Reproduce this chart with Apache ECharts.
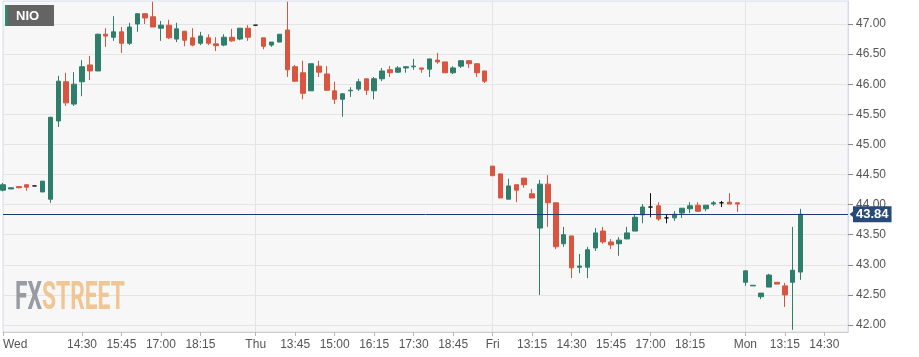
<!DOCTYPE html>
<html>
<head>
<meta charset="utf-8">
<script src="https://cdn.jsdelivr.net/npm/echarts@6/dist/echarts.min.js"></script>
<style>
html,body{margin:0;padding:0;background:#fff;}
#chart{width:919px;height:357px;}
</style>
</head>
<body>
<div id="chart"></div>
<script>
// 15-minute sessions (category labels)
const categories = [
  'Wed','12:15','12:30','12:45','13:00','13:15','13:30','13:45','14:00','14:15','14:30','14:45','15:00','15:15','15:30','15:45','16:00','16:15','16:30','16:45','17:00','17:15','17:30','17:45','18:00','18:15','18:30','18:45','19:00','19:15','19:30','19:45',
  'Thu','12:45','13:00','13:15','13:30','13:45','14:00','14:15','14:30','14:45','15:00','15:15','15:30','15:45','16:00','16:15','16:30','16:45','17:00','17:15','17:30','17:45','18:00','18:15','18:30','18:45','19:00','19:15','19:30','19:45',
  'Fri','12:15','12:30','12:45','13:00','13:15','13:30','13:45','14:00','14:15','14:30','14:45','15:00','15:15','15:30','15:45','16:00','16:15','16:30','16:45','17:00','17:15','17:30','17:45','18:00','18:15','18:30','18:45','19:00','19:15','19:30','19:45',
  'Mon','12:15','12:30','12:45','13:00','13:15','13:30','13:45','14:00','14:15','14:30','14:45','15:00','15:15'
];
const labelIndices = [0,10,15,20,25,32,37,42,47,52,57,62,67,72,77,82,87,94,99,104];
const dayStarts = [32,62,94];

const openVals = [
  44.24,44.26,44.30,44.33,44.31,44.21,44.09,45.39,46.04,45.67,46.04,46.32,46.22,46.83,46.78,46.87,46.68,47.00,47.17,47.12,
  46.93,46.98,46.75,46.88,46.77,46.68,46.77,46.67,46.65,46.78,46.75,46.93,46.98,46.77,46.65,46.70,46.90,46.29,46.19,45.89,
  46.30,46.17,45.89,45.75,45.89,45.92,46.09,45.89,46.09,46.24,46.20,46.27,46.29,46.27,46.25,46.40,46.37,46.19,46.30,46.39,
  46.34,46.22,44.64,44.51,44.09,44.33,44.44,44.18,43.61,44.34,44.03,43.35,43.48,42.96,42.96,43.28,43.56,43.38,43.35,43.43,
  43.56,43.83,43.96,43.98,43.78,43.78,43.86,43.93,43.99,43.93,44.01,44.03,44.04,44.03,42.71,42.65,42.47,42.63,42.71,42.65,
  42.71,42.88
];
const closeVals = [
  44.33,44.28,44.28,44.29,44.31,44.39,45.45,46.05,45.69,46.00,46.29,46.22,46.83,46.80,46.87,46.68,46.95,47.17,47.10,46.95,
  46.98,46.77,46.92,46.73,46.65,46.80,46.68,46.64,46.78,46.72,46.93,46.78,46.98,46.63,46.70,46.83,46.24,46.05,45.85,46.34,
  46.20,45.90,45.75,45.84,45.90,46.04,45.90,46.09,46.22,46.19,46.27,46.29,46.30,46.25,46.42,46.37,46.19,46.27,46.39,46.34,
  46.19,46.05,44.48,44.11,44.31,44.24,44.33,44.11,44.34,44.03,43.30,43.50,42.95,42.98,43.25,43.53,43.38,43.33,43.41,43.53,
  43.79,43.96,43.96,43.76,43.78,43.84,43.94,43.98,43.89,43.99,44.03,44.03,44.01,44.01,42.90,42.66,42.53,42.83,42.68,42.50,
  42.91,43.84
];
const lowVals = [
  44.22,44.26,44.27,44.23,44.31,44.21,44.03,45.29,45.64,45.64,45.80,46.07,46.22,46.62,46.72,46.52,46.65,46.87,47.00,46.95,
  46.72,46.75,46.70,46.63,46.63,46.65,46.65,46.55,46.63,46.70,46.73,46.72,46.98,46.58,46.62,46.70,46.12,46.04,45.75,45.89,
  46.12,45.89,45.67,45.46,45.79,45.89,45.82,45.75,46.05,46.12,46.19,46.19,46.24,46.19,46.12,46.34,46.19,46.17,46.27,46.27,
  46.12,46.02,44.48,44.11,44.09,44.04,44.28,44.11,42.50,43.63,43.26,43.30,42.78,42.86,42.78,43.23,43.35,43.26,43.15,43.43,
  43.56,43.69,43.79,43.73,43.69,43.73,43.78,43.86,43.88,43.89,43.98,43.96,44.01,43.88,42.65,42.65,42.43,42.63,42.68,42.30,
  41.92,42.75
];
const highVals = [
  44.36,44.28,44.30,44.33,44.31,44.39,45.46,46.14,46.19,46.20,46.40,46.47,46.84,46.93,47.13,46.95,47.02,47.18,47.18,47.37,
  47.05,47.07,47.02,46.88,46.93,46.87,46.83,46.78,46.83,46.92,46.93,46.98,46.98,46.77,46.70,46.83,47.37,46.32,46.39,46.34,
  46.39,46.30,46.04,45.85,45.95,46.09,46.09,46.12,46.27,46.30,46.30,46.30,46.42,46.27,46.42,46.52,46.37,46.30,46.40,46.40,
  46.35,46.22,44.64,44.51,44.43,44.33,44.44,44.26,44.41,44.49,44.03,43.63,43.48,43.18,43.30,43.61,43.63,43.43,43.46,43.63,
  43.83,44.01,44.19,44.04,43.83,43.89,43.94,44.04,44.04,43.99,44.06,44.06,44.19,44.03,42.90,42.66,42.53,42.85,42.71,42.70,
  43.63,43.93
];
const lastPrice = 43.84;
const yTicks = [42.00,42.50,43.00,43.50,44.00,44.50,45.00,45.50,46.00,46.50,47.00];
const yMin = 41.884, yMax = 47.382;

const candleData = categories.map((c, i) =>
  i < openVals.length ? [openVals[i], closeVals[i], lowVals[i], highVals[i]] : '-'
);

const chart = echarts.init(document.getElementById('chart'));
const UP = '#2d7e6a', DOWN = '#d9553f';
chart.setOption({
  animation: false,
  backgroundColor: '#ffffff',
  textStyle: { fontFamily: 'Liberation Sans, Arial, sans-serif' },
  grid: {
    left: 0, right: 71, top: 1, bottom: 25,
    show: true, backgroundColor: '#f7f7f7', borderColor: '#d6dcec', borderWidth: 1
  },
  xAxis: {
    type: 'category',
    data: categories,
    boundaryGap: false,
    axisLine: { show: true, lineStyle: { color: '#cfcfcf' } },
    axisTick: { show: true, length: 4, lineStyle: { color: '#b5b5b5' },
      interval: (i) => labelIndices.includes(i) },
    axisLabel: { color: '#555', fontSize: 12, margin: 7,
      interval: (i) => labelIndices.includes(i), alignMinLabel: 'left' },
    splitLine: { show: true, lineStyle: { color: '#e4e4e4' },
      interval: (i) => dayStarts.includes(i) }
  },
  yAxis: {
    type: 'value',
    position: 'right',
    min: yMin, max: yMax,
    scale: true,
    axisLine: { show: true, lineStyle: { color: '#d6dcec' } },
    axisTick: { show: true, length: 5, lineStyle: { color: '#888' }, customValues: yTicks },
    axisLabel: { color: '#555', fontSize: 12, margin: 8, customValues: yTicks,
      formatter: (v) => v.toFixed(2) },
    splitLine: { show: true, lineStyle: { color: '#e4e4e4' } }
  },
  series: [{
    type: 'candlestick',
    data: candleData,
    barWidth: 5,
    itemStyle: {
      color: UP, color0: DOWN, borderColor: UP, borderColor0: DOWN,
      borderColorDoji: '#111', borderWidth: 1
    },
    markLine: {
      silent: true,
      symbol: 'none',
      lineStyle: { color: '#1f3d6c', width: 1, type: 'solid' },
      label: { show: true, position: 'end', distance: 5, formatter: lastPrice.toFixed(2),
        backgroundColor: '#284a78', color: '#fff', fontWeight: 'bold', fontSize: 13,
        padding: [2, 3, 1, 3] },
      data: [{ yAxis: lastPrice }]
    },
    markPoint: {
      silent: true,
      symbol: 'triangle', symbolSize: [8, 5], symbolRotate: 90, symbolOffset: [4, 0],
      itemStyle: { color: '#284a78' },
      label: { show: false },
      data: [{ coord: [107, lastPrice] }]
    }
  }],
  graphic: [
    { type: 'rect', shape: { x: 5, y: 5, width: 49, height: 21 }, style: { fill: '#646464' }, z: 100 },
    { type: 'rect', shape: { x: 5, y: 5, width: 2.5, height: 21 }, style: { fill: '#2a8c6e' }, z: 101 },
    { type: 'text', x: 16, y: 16, z: 101,
      style: { text: 'NIO', fill: '#fff', font: 'bold 13px "Liberation Sans", Arial', verticalAlign: 'middle', align: 'left' } },
    { type: 'text', x: 15, y: 299, scaleX: 0.6, z: 1, silent: true,
      style: {
        text: '{a|FX}{b|STREET}',
        verticalAlign: 'middle', align: 'left', opacity: 0.9,
        rich: {
          a: { fill: '#8e9099', font: 'bold 38px Roboto' },
          b: { fill: '#efc089', font: 'bold 38px Roboto' }
        }
      } }
  ]
});
</script>
</body>
</html>
